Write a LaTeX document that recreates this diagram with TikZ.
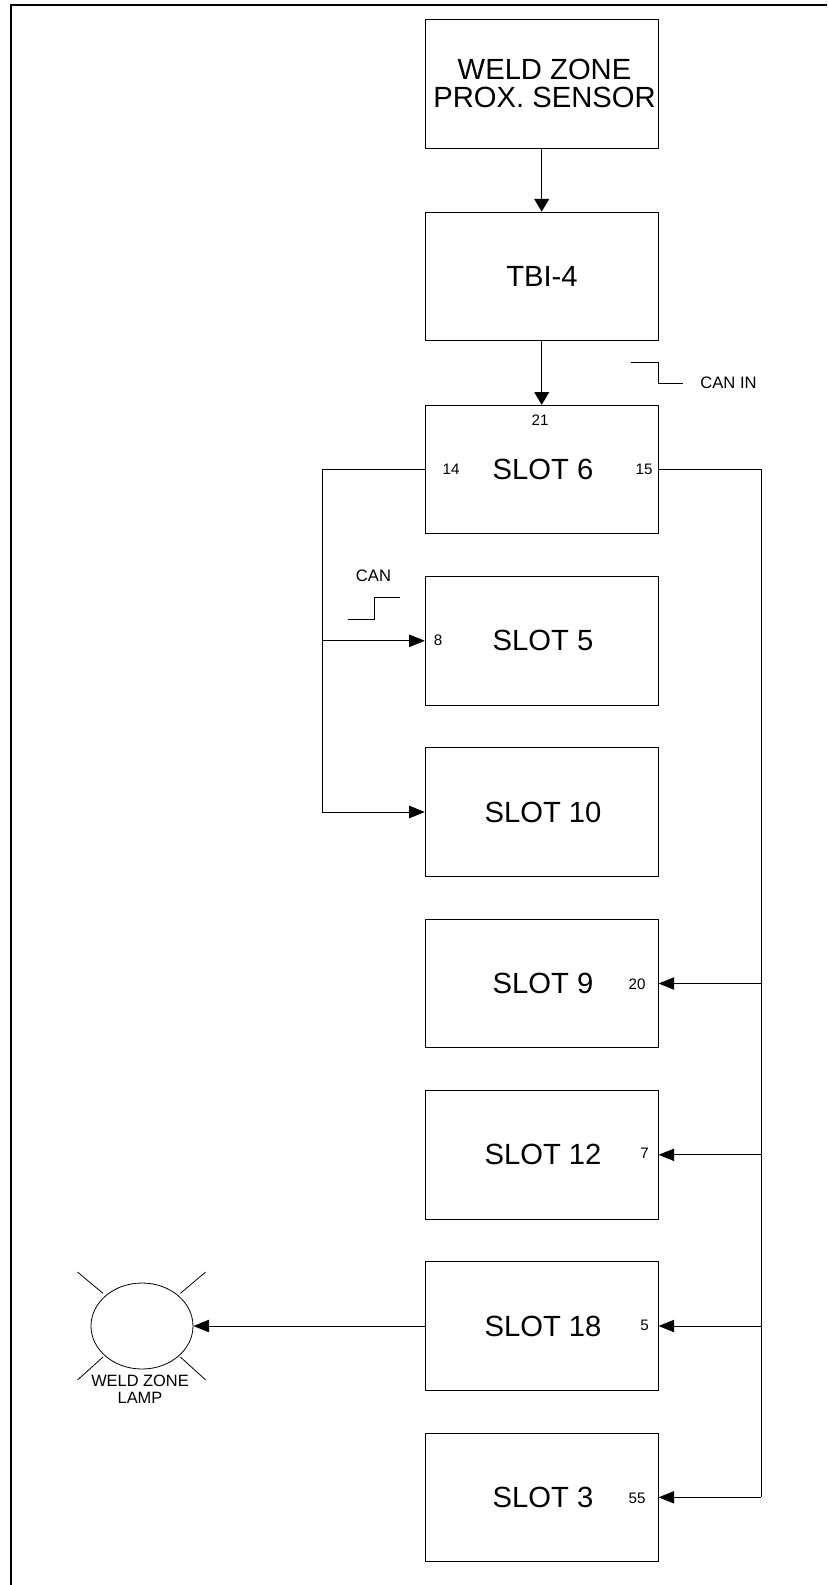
\documentclass[tikz,border=0pt]{standalone}
\usepackage{fontspec}
\setmainfont{Liberation Sans}
\usepackage{tikz}
\usetikzlibrary{positioning,arrows.meta,shapes.geometric}

\begin{document}
\begin{tikzpicture}[x=0.5pt,y=-0.5pt,
  slotbox/.style={draw,minimum width=116.5pt,minimum height=64.3pt,inner sep=0pt},
  biglabel/.style={font=\fontsize{14.6pt}{14pt}\selectfont,align=center,inner sep=0pt},
  pinlabel/.style={font=\fontsize{7.6pt}{9pt}\selectfont,inner sep=0pt},
  hwire/.style={-{Triangle[length=7.8pt,width=6.2pt]}},
  vwire/.style={-{Triangle[length=6.4pt,width=7.5pt]}}]
\useasboundingbox (0,0) rectangle (827,1585);
\draw[line width=1pt] (10.5,1585) -- (10.5,5) -- (827,5);
% column of boxes
\node[slotbox] (sensor) at (541.7,83.8) {};
\node[slotbox] (tbi) at (541.7,276.3) {};
\node[slotbox] (slot6) at (541.7,469.5) {};
\node[slotbox] (slot5) at (541.7,640.8) {};
\node[slotbox] (slot10) at (541.7,812) {};
\node[slotbox] (slot9) at (541.7,983.5) {};
\node[slotbox] (slot12) at (541.7,1154.8) {};
\node[slotbox] (slot18) at (541.7,1326) {};
\node[slotbox] (slot3) at (541.7,1497.3) {};
\node[biglabel] (sensortxt) at (544.5,83.3) {WELD ZONE\\PROX. SENSOR};
\node[biglabel] (tbitxt) at (542,276.3) {TBI-4};
\node[biglabel] (slot6txt) at (543,469.5) {SLOT 6};
\node[biglabel] (slot5txt) at (543,640.8) {SLOT 5};
\node[biglabel] (slot10txt) at (543,812) {SLOT 10};
\node[biglabel] (slot9txt) at (543,983.5) {SLOT 9};
\node[biglabel] (slot12txt) at (543,1154.8) {SLOT 12};
\node[biglabel] (slot18txt) at (543,1326) {SLOT 18};
\node[biglabel] (slot3txt) at (543,1497.3) {SLOT 3};
% pin numbers
\node[pinlabel] (pin21) at (540,420) {21};
\node[pinlabel] (pin14) at (451,469) {14};
\node[pinlabel] (pin15) at (644,469) {15};
\node[pinlabel] (pin8) at (438,640.3) {8};
\node[pinlabel] (pin20) at (637,984) {20};
\node[pinlabel] (pin7) at (644.5,1153.6) {7};
\node[pinlabel] (pin5) at (644.5,1325.7) {5};
\node[pinlabel] (pin55) at (637,1498.7) {55};
% lamp
\node[draw,ellipse,minimum width=51pt,minimum height=43pt,inner sep=0pt] (lamp) at (142,1326) {};
\node[pinlabel,align=center,font=\fontsize{8.2pt}{8.4pt}\selectfont] (lamptxt) at (140,1389.5) {WELD ZONE\\LAMP};
\coordinate (rayA) at (77.5,1272);
\coordinate (rayB) at (103,1293.3);
\coordinate (rayC) at (205.7,1272);
\coordinate (rayD) at (180.4,1293.3);
\coordinate (rayE) at (77.5,1380);
\coordinate (rayF) at (103,1357);
\coordinate (rayG) at (205.7,1380);
\coordinate (rayH) at (180.4,1357);
\draw (rayA) -- (rayB);
\draw (rayC) -- (rayD);
\draw (rayE) -- (rayF);
\draw (rayG) -- (rayH);
% wiring
\coordinate (busL) at (322,469.5);
\coordinate (busR) at (761,469.5);
\draw[vwire] (sensor) -- (tbi);
\draw[vwire] (tbi) -- (slot6);
\draw (slot6.west) -- (busL) -- (busL |- slot10.west);
\draw[hwire] (busL |- slot5.west) -- (slot5.west);
\draw[hwire] (busL |- slot10.west) -- (slot10.west);
\draw (slot6.east) -- (busR) -- (busR |- slot3.east);
\draw[hwire] (busR |- slot9.east) -- (slot9.east);
\draw[hwire] (busR |- slot12.east) -- (slot12.east);
\draw[hwire] (busR |- slot18.east) -- (slot18.east);
\draw[hwire] (busR |- slot3.east) -- (slot3.east);
\draw[hwire] (slot18.west) -- (lamp.east);
% signal edges
\coordinate (fallA) at (631,362);
\coordinate (fallB) at (683,383);
\coordinate (riseA) at (348,619);
\coordinate (riseB) at (400,597);
\draw (fallA) -- (658,362) -- (658,383) -- (fallB);
\draw (riseA) -- (374,619) -- (374,597) -- (riseB);
\node[pinlabel,font=\fontsize{8.3pt}{9pt}\selectfont] (canin) at (728.5,383) {CAN IN};
\node[pinlabel,font=\fontsize{8.3pt}{9pt}\selectfont] (can) at (373.5,576) {CAN};
\end{tikzpicture}
\end{document}
